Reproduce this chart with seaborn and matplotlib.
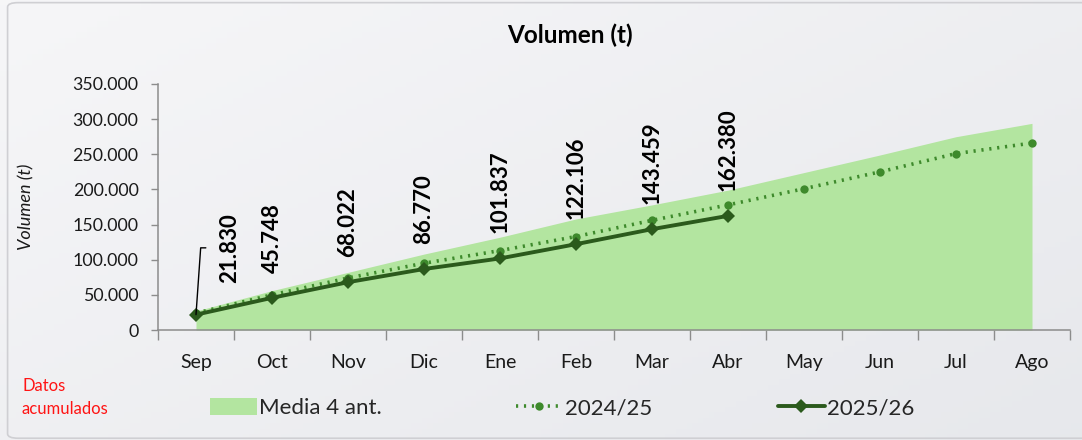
import numpy as np
import pandas as pd
import matplotlib
matplotlib.use("Agg")
import matplotlib.pyplot as plt
import matplotlib.ticker as mticker
from matplotlib.patches import Patch, FancyBboxPatch
from matplotlib.lines import Line2D
import seaborn as sns

# ---- data ----
months = ["Sep", "Oct", "Nov", "Dic", "Ene", "Feb", "Mar", "Abr", "May", "Jun", "Jul", "Ago"]
media_4_ant = [27000, 56000, 82000, 108000, 132000, 158000, 178000, 199000, 224000, 249000, 275000, 294000]
serie_2024_25 = [24000, 50000, 74000, 95000, 113000, 133000, 156000, 178000, 201000, 225000, 251000, 266000]
serie_2025_26 = [21830, 45748, 68022, 86770, 101837, 122106, 143459, 162380]
y_ticks = [0, 50000, 100000, 150000, 200000, 250000, 300000, 350000]

sns.set_theme(style="white")
plt.rcParams['font.family'] = ['Lato', 'DejaVu Sans']

fig = plt.figure(figsize=(10.82, 4.40), dpi=100)
fig.patch.set_facecolor("#eeeef1")

# subtle gradient background
bg = fig.add_axes([0, 0, 1, 1], zorder=-10)
gx = np.linspace(0, 1, 200)
gy = np.linspace(0, 1, 80)
G = 0.55 * gx[None, :] + 0.45 * gy[:, None]
c0 = np.array([0.965, 0.965, 0.972])
c1 = np.array([0.905, 0.910, 0.925])
img = c0[None, None, :] * (1 - G[..., None]) + c1[None, None, :] * G[..., None]
bg.imshow(img, aspect="auto", extent=[0, 1, 0, 1], origin="upper")
bg.set_axis_off()
fig.patches.append(FancyBboxPatch((0.007, 0.004), 1.2, 0.99, boxstyle="round,pad=0,rounding_size=0.01",
                                  transform=fig.transFigure, fill=False, edgecolor="#cfcfd3", lw=1.2, zorder=-5))

ax = fig.add_axes([158 / 1082, 1 - 330 / 440, (1070 - 158) / 1082, (330 - 84) / 440])
ax.set_facecolor("none")

x_all = np.arange(len(months))
x_cur = np.arange(len(serie_2025_26))

c_area = "#b3e5a0"
c_prev = "#3e8a2c"
c_cur = "#2b5a1c"

ax.fill_between(x_all, 0, media_4_ant, color=c_area, lw=0, zorder=1)

df_prev = pd.DataFrame({"x": x_all, "y": serie_2024_25})
df_cur = pd.DataFrame({"x": x_cur, "y": serie_2025_26})
sns.lineplot(data=df_prev, x="x", y="y", ax=ax, color=c_prev, lw=2.6, linestyle=(0, (0.6, 1.6)),
             marker="o", markersize=6, markeredgewidth=0, zorder=3)
sns.lineplot(data=df_cur, x="x", y="y", ax=ax, color=c_cur, lw=2.8,
             marker="D", markersize=7, markeredgewidth=0, zorder=4)

ax.set_xlim(-0.5, len(months) - 0.5)
ax.set_ylim(0, 350000)
ax.set_yticks(y_ticks)
ax.yaxis.set_major_formatter(mticker.FuncFormatter(lambda v, p: f"{int(v):,}".replace(",", ".")))
ax.set_xticks(x_all)
ax.set_xticklabels(months)
ax.set_xticks(np.arange(-0.5, len(months)), minor=True)
ax.tick_params(axis="x", which="major", length=0, pad=17, labelsize=14, colors="#1a1a1a")
ax.tick_params(axis="x", which="minor", length=7, width=1, color="#8c8c8c", direction="out", bottom=True)
ax.tick_params(axis="y", which="major", length=5, width=1, color="#8c8c8c", direction="out",
               left=True, labelsize=12.8, colors="#1a1a1a", pad=9)
for s in ["top", "right"]:
    ax.spines[s].set_visible(False)
for s in ["left", "bottom"]:
    ax.spines[s].set_color("#8c8c8c")
    ax.spines[s].set_linewidth(1.1)
ax.set_xlabel("")
ax.set_ylabel("Volumen (t)", fontsize=13, fontstyle="italic", color="#1a1a1a")
ax.yaxis.set_label_coords(-0.136, 0.5)

# data labels
for i, v in enumerate(serie_2025_26):
    txt = f"{v:,}".replace(",", ".")
    if i == 0:
        ax.annotate(txt, xy=(i, v), xytext=(24, 23), textcoords="offset points",
                    rotation=90, ha="center", va="bottom", fontsize=16, fontweight="bold",
                    color="black",
                    arrowprops=dict(arrowstyle="-", color="black", lw=1, shrinkA=7, shrinkB=0,
                                    relpos=(0, 0.5),
                                    connectionstyle="angle,angleA=0,angleB=86,rad=0"), zorder=6)
    else:
        ax.annotate(txt, xy=(i, v), xytext=(0, 18), textcoords="offset points",
                    rotation=90, ha="center", va="bottom", fontsize=16, fontweight="bold",
                    color="black", zorder=6)

fig.text(570 / 1082, 1 - 35 / 440, "Volumen (t)", ha="center", va="center",
         fontsize=17.5, fontweight="bold", color="black")

fig.text(22 / 1082, 1 - 386 / 440, "Datos", ha="left", va="center", fontsize=12, color="#ff1414")
fig.text(22 / 1082, 1 - 409 / 440, "acumulados", ha="left", va="center", fontsize=12, color="#ff1414")

# legend (three entries at fixed positions)
leg_items = [
    (Patch(facecolor=c_area, edgecolor="none"), "Media 4 ant.", 210),
    (Line2D([], [], color=c_prev, lw=2.6, linestyle=(0, (0.6, 1.6)), marker="o", markersize=6,
            markeredgewidth=0), "2024/25", 516),
    (Line2D([], [], color=c_cur, lw=2.8, marker="D", markersize=7, markeredgewidth=0), "2025/26", 778),
]
for h, lab, px in leg_items:
    fig.legend([h], [lab], loc="center left", bbox_to_anchor=(px / 1082, 1 - 408 / 440),
               frameon=False, fontsize=16, handlelength=2.1, handleheight=0.8, handletextpad=0.12,
               borderpad=0, borderaxespad=0)

fig.savefig("out.png", dpi=100, facecolor=fig.get_facecolor())
